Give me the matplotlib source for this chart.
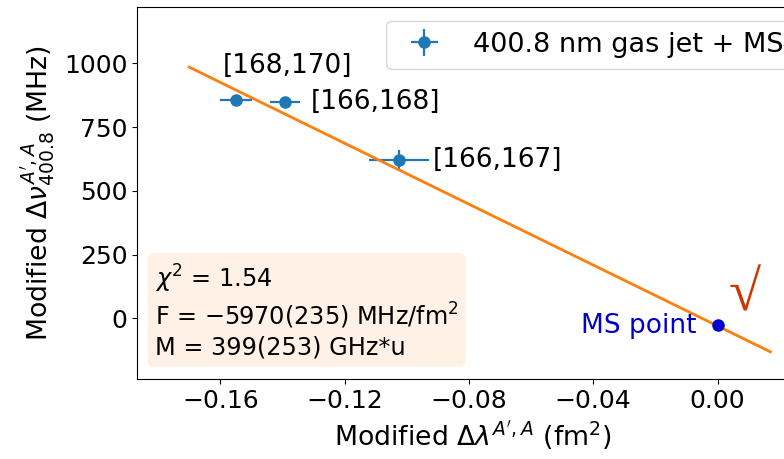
import matplotlib
matplotlib.use("Agg")
import matplotlib.pyplot as plt
import numpy as np

# isotope pairs, modified field shift vs modified frequency shift
pair_labels = ["[168,170]", "[166,168]", "[166,167]"]
mod_dlambda = [-0.1549, -0.1392, -0.1025]
mod_dlambda_err = [0.0051, 0.0048, 0.0097]
mod_dnu = [856, 848, 621]
mod_dnu_err = [12, 12, 39]

# mass-shift reference point
ms_x = 0.0
ms_y = -26

# King plot fit result
chi2 = 1.54
F = -5970
F_err = 235
M = 399
M_err = 253
fit_intercept = -30
fit_range = [-0.17, 0.017]

# label offsets (points) for each pair
label_offsets = [(-9.5, 24.5), (18.5, 0), (24.5, 0)]


def main():
	fig = plt.figure(figsize=(7.84, 4.59), dpi=100)
	# axes runs slightly past the right edge of the canvas
	ax = fig.add_axes([137 / 784, 1 - 379.3 / 459, 671 / 784, 372 / 459])

	ax.errorbar(mod_dlambda, mod_dnu, xerr=mod_dlambda_err, yerr=mod_dnu_err,
				fmt='o', color='C0', ms=8, elinewidth=1.6,
				label="400.8 nm gas jet + MS")

	fit_x = np.array(fit_range)
	ax.plot(fit_x, F * fit_x + fit_intercept, color='C1', lw=2)

	for lab, x, y, off in zip(pair_labels, mod_dlambda, mod_dnu, label_offsets):
		ax.annotate(lab, (x, y), xytext=off, textcoords='offset points',
					ha='left', va='center', fontsize=19)

	ax.plot(ms_x, ms_y, 'o', color='#0000cc', ms=8)
	ax.annotate("MS point", (ms_x, ms_y), xytext=(-15, -1), textcoords='offset points',
				ha='right', va='center', fontsize=19, color='#0000cc')

	# check mark next to the MS point
	ax.text(0.0088, 86, "\u221a", fontsize=42, color='#cc3700',
			family='Liberation Serif', fontweight='bold', ha='center', va='center')

	info = (f"$\\chi^2$ = {chi2:.2f}\n"
			f"F = \u2212{abs(F)}({F_err}) MHz/fm$^2$\n"
			f"M = {M}({M_err}) GHz*u")
	ax.text(0.0265, 0.053, info, transform=ax.transAxes, fontsize=17.3,
			ha='left', va='bottom', linespacing=1.25,
			bbox=dict(boxstyle='round,pad=0.3', facecolor='C1', alpha=0.1, edgecolor='none'))

	ax.set_xlim(-0.1868, 0.0291)
	ax.set_ylim(-239.2, 1219.6)
	ax.set_xticks([-0.16, -0.12, -0.08, -0.04, 0.00])
	ax.set_yticks([0, 250, 500, 750, 1000])
	ax.tick_params(labelsize=18)

	ax.set_xlabel("Modified $\\Delta\\lambda^{A',A}$ (fm$^2$)", fontsize=19.3)
	ax.set_ylabel("Modified $\\Delta\\nu^{A',A}_{400.8}$ (MHz)", fontsize=19.3)

	ax.legend(loc='upper right', fontsize=19.5)

	fig.savefig("out.png", dpi=100)
	plt.close(fig)


if __name__ == "__main__":
	main()
